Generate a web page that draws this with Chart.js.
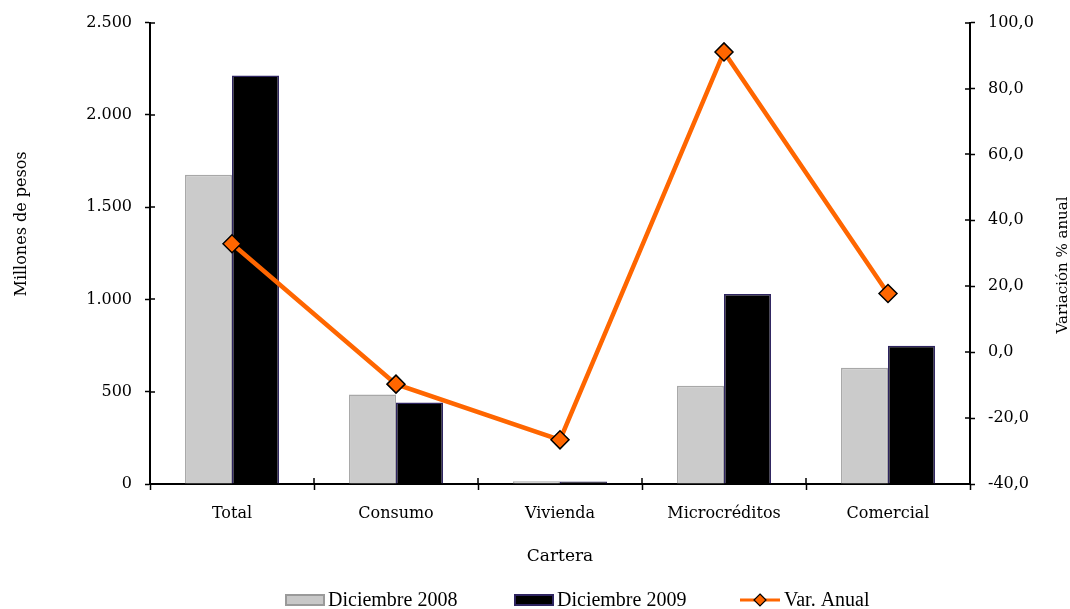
<!DOCTYPE html>
<html>
<head>
<meta charset="utf-8">
<script src="https://cdn.jsdelivr.net/npm/chart.js@4/dist/chart.umd.min.js"></script>
<style>
  html, body { margin: 0; padding: 0; background: #fff; }
  #wrap { width: 1070px; height: 609px; position: relative; }
</style>
</head>
<body>
<div id="wrap"><canvas id="cartera-chart"></canvas></div>
<script>
const categories = ['Total', 'Consumo', 'Vivienda', 'Microcréditos', 'Comercial'];
const dic2008 = [1676, 485, 15, 533, 630];
const dic2009 = [2214, 442, 14, 1029, 749];
const varAnual = [32.9, -9.7, -26.6, 91.1, 17.8];
const leftTicks = [0, 500, 1000, 1500, 2000, 2500];
const rightTicks = [-40, -20, 0, 20, 40, 60, 80, 100];

const serif = '"DejaVu Serif", serif';

function fmtMiles(v) {
  return String(v).replace(/\B(?=(\d{3})+(?!\d))/g, '.');
}
function fmtPct(v) {
  return v.toFixed(1).replace('.', ',');
}

// ticks that cross the axis lines, axis titles and the legend
const extras = {
  id: 'extras',
  afterDraw(chart) {
    const ctx = chart.ctx;
    const area = chart.chartArea;
    const y = chart.scales.y, y1 = chart.scales.y1;
    ctx.save();
    ctx.strokeStyle = '#000';
    ctx.lineWidth = 1.5;
    ctx.beginPath();
    y.ticks.forEach((t, i) => {
      const p = Math.round(y.getPixelForTick(i));
      ctx.moveTo(area.left, p); ctx.lineTo(area.left + 5, p);
    });
    y1.ticks.forEach((t, i) => {
      const p = Math.round(y1.getPixelForTick(i));
      ctx.moveTo(area.right, p); ctx.lineTo(area.right - 5, p);
    });
    const step = (area.right - area.left) / categories.length;
    for (let i = 1; i < categories.length; i++) {
      const p = Math.round(area.left + step * i);
      ctx.moveTo(p, area.bottom); ctx.lineTo(p, area.bottom - 6);
    }
    ctx.stroke();

    // axis titles
    ctx.fillStyle = '#000';
    ctx.textAlign = 'center';
    ctx.textBaseline = 'middle';
    ctx.font = '16px ' + serif;
    ctx.save();
    ctx.translate(22, 224);
    ctx.rotate(-Math.PI / 2);
    ctx.fillText('Millones de pesos', 0, 0);
    ctx.restore();
    ctx.font = '15px ' + serif;
    ctx.save();
    ctx.translate(1063, 265);
    ctx.rotate(-Math.PI / 2);
    ctx.fillText('Variación % anual', 0, 0);
    ctx.restore();
    ctx.font = '17px ' + serif;
    ctx.fillText('Cartera', 560, 557);

    // legend
    const ly = 600;
    ctx.font = '20px "Liberation Serif", serif';
    ctx.textAlign = 'left';
    ctx.fillStyle = '#c8c8c8';
    ctx.fillRect(285, ly - 6, 40, 12);
    ctx.strokeStyle = '#9a9a9a';
    ctx.lineWidth = 2;
    ctx.strokeRect(286, ly - 5, 38, 10);
    ctx.fillStyle = '#000';
    ctx.fillText(chart.data.datasets[0].label, 328, ly + 1);

    ctx.fillStyle = '#000';
    ctx.fillRect(514, ly - 6, 40, 12);
    ctx.strokeStyle = '#2e2460';
    ctx.strokeRect(515, ly - 5, 38, 10);
    ctx.fillStyle = '#000';
    ctx.fillText(chart.data.datasets[1].label, 557, ly + 1);

    ctx.strokeStyle = '#ff6600';
    ctx.lineWidth = 3;
    ctx.beginPath();
    ctx.moveTo(740, ly); ctx.lineTo(780, ly);
    ctx.stroke();
    ctx.beginPath();
    ctx.moveTo(760, ly - 6); ctx.lineTo(766, ly); ctx.lineTo(760, ly + 6); ctx.lineTo(754, ly);
    ctx.closePath();
    ctx.fillStyle = '#ff6600';
    ctx.fill();
    ctx.strokeStyle = '#000';
    ctx.lineWidth = 1.2;
    ctx.stroke();
    ctx.fillStyle = '#000';
    ctx.fillText(chart.data.datasets[2].label, 784, ly + 1);
    ctx.restore();
  }
};

const ctx = document.getElementById('cartera-chart').getContext('2d');
const chart = new Chart(ctx, {
  type: 'bar',
  data: {
    labels: categories,
    datasets: [{
      label: 'Diciembre 2008',
      data: dic2008,
      backgroundColor: '#cbcbcb',
      borderColor: '#a8a8a8',
      borderWidth: 1.5,
      yAxisID: 'y',
      order: 1
    }, {
      label: 'Diciembre 2009',
      data: dic2009,
      backgroundColor: '#000',
      borderColor: '#2e2460',
      borderWidth: 1.5,
      yAxisID: 'y',
      order: 1
    }, {
      type: 'line',
      label: 'Var. Anual',
      data: varAnual,
      borderColor: '#ff6600',
      borderWidth: 4.5,
      pointStyle: 'rectRot',
      pointRadius: 9,
      pointBackgroundColor: '#ff6600',
      pointBorderColor: '#000',
      pointBorderWidth: 1.5,
      yAxisID: 'y1',
      order: 0
    }]
  },
  options: {
    responsive: true,
    maintainAspectRatio: false,
    animation: false,
    layout: { padding: { top: 20, bottom: 0, left: 0, right: 0 } },
    datasets: {
      bar: { categoryPercentage: 0.573, barPercentage: 1 }
    },
    plugins: {
      legend: { display: false },
      tooltip: { enabled: false }
    },
    scales: {
      x: {
        grid: { drawOnChartArea: false, offset: true, color: '#000', tickLength: 6, tickWidth: 1.5 },
        border: { color: '#000', width: 2 },
        ticks: { color: '#000', font: { family: serif, size: 16 }, padding: 14 },
        afterFit: s => { s.height = 125; }
      },
      y: {
        position: 'left',
        min: 0, max: 2500,
        grid: { drawOnChartArea: false, color: '#000', tickLength: 5, tickWidth: 1.5 },
        border: { color: '#000', width: 2 },
        afterBuildTicks: s => { s.ticks = leftTicks.map(v => ({ value: v })); },
        ticks: { color: '#000', font: { family: serif, size: 16 }, padding: 13, callback: v => fmtMiles(v) },
        afterFit: s => { s.width = 150; }
      },
      y1: {
        position: 'right',
        min: -40, max: 100,
        grid: { drawOnChartArea: false, color: '#000', tickLength: 5, tickWidth: 1.5 },
        border: { color: '#000', width: 2 },
        afterBuildTicks: s => { s.ticks = rightTicks.map(v => ({ value: v })); },
        ticks: { color: '#000', font: { family: serif, size: 16 }, padding: 13, callback: v => fmtPct(v) },
        afterFit: s => { s.width = 100; }
      }
    }
  },
  plugins: [extras]
});
</script>
</body>
</html>
